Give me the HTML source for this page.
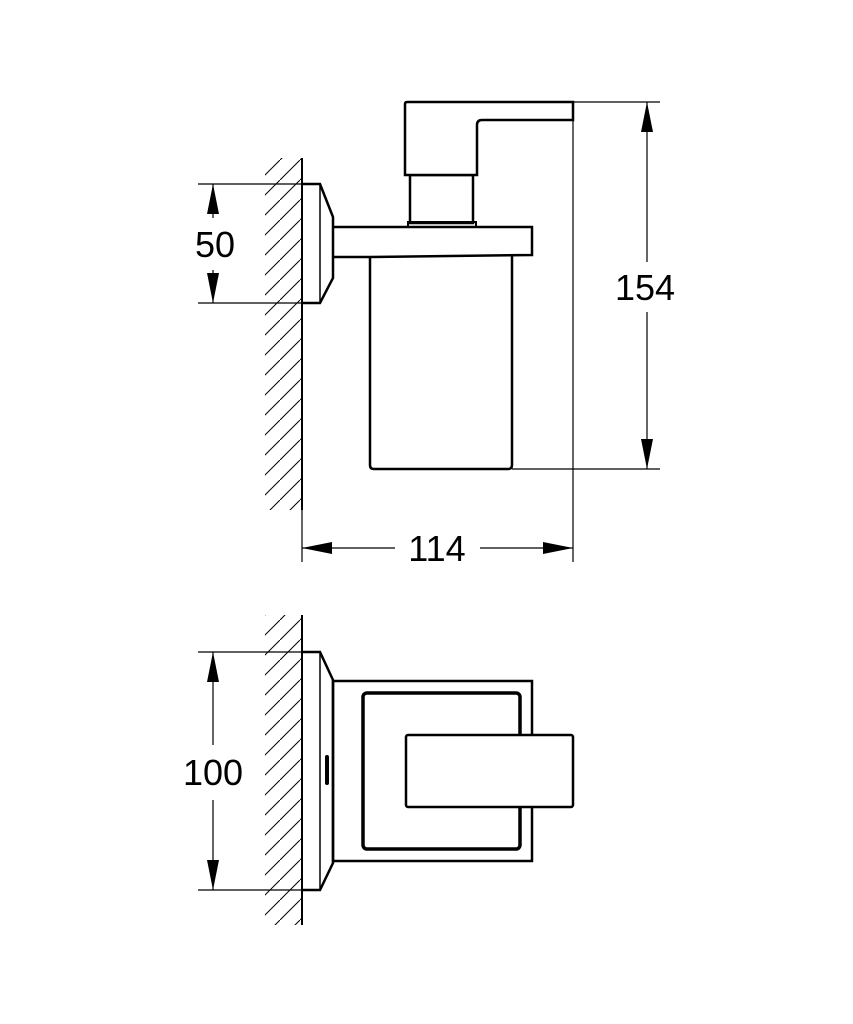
<!DOCTYPE html>
<html><head><style>body{margin:0;background:#fff}svg{display:block}text{font-family:"Liberation Sans",sans-serif;font-size:36px;fill:#000}</style></head><body>
<svg width="853" height="1024" viewBox="0 0 853 1024">
<defs>
<pattern id="h" width="20" height="20" patternUnits="userSpaceOnUse" patternTransform="translate(0,0)">
<line x1="0" y1="20" x2="20" y2="0" stroke="#000" stroke-width="1"/>
</pattern>
<marker id="a" viewBox="0 0 10 30" refX="10" refY="5" markerWidth="10" markerHeight="30" orient="auto" markerUnits="userSpaceOnUse"></marker>
</defs>
<g stroke="#000" fill="none">
<!-- top wall -->
<rect x="265" y="158" width="37" height="352" fill="url(#h)" stroke="none"/>
<line x1="302" y1="158" x2="302" y2="510" stroke-width="2"/>
<!-- mount -->
<path d="M302 184 H320 L333 217 V278 L320 303 H302" stroke-width="2.5"/>
<line x1="320" y1="184" x2="320" y2="303" stroke-width="1.5"/>
<!-- arm -->
<path d="M333 227 H532 V255 L370 257 H333" stroke-width="2.5"/>
<!-- cup -->
<path d="M370 257 V465 Q370 469 374 469 H508 Q512 469 512 465 V256" stroke-width="2.5"/>
<!-- neck -->
<rect x="410" y="175" width="63" height="48" stroke-width="2.5"/>
<rect x="408" y="222" width="68" height="5" stroke-width="2"/>
<!-- pump head -->
<path d="M405 175 V104 Q405 102 407 102 H573 V120 H482 Q477 120 477 125 V175 Z" stroke-width="2.5" fill="#fff"/>
<!-- dims top -->
<g stroke-width="1.2">
<line x1="573" y1="102" x2="660" y2="102"/>
<line x1="512" y1="469" x2="660" y2="469"/>
<line x1="573" y1="102" x2="573" y2="562"/>
<line x1="302" y1="510" x2="302" y2="562"/>
<line x1="647" y1="102" x2="647" y2="262"/>
<line x1="647" y1="312" x2="647" y2="469"/>
<line x1="198" y1="184" x2="302" y2="184"/>
<line x1="198" y1="303" x2="302" y2="303"/>
<line x1="213" y1="184" x2="213" y2="218"/>
<line x1="213" y1="270" x2="213" y2="303"/>
<line x1="302" y1="548" x2="395" y2="548"/>
<line x1="480" y1="548" x2="573" y2="548"/>
<line x1="198" y1="652" x2="302" y2="652"/>
<line x1="198" y1="890" x2="302" y2="890"/>
<line x1="213" y1="652" x2="213" y2="745"/>
<line x1="213" y1="800" x2="213" y2="890"/>
</g>
<g fill="#000" stroke="none">
<path d="M647 102 L641 132 L653 132 Z"/><path d="M647 469 L641 439 L653 439 Z"/>
<path d="M213 184 L207 214 L219 214 Z"/><path d="M213 303 L207 273 L219 273 Z"/>
<path d="M302 548 L332 542 L332 554 Z"/><path d="M573 548 L543 542 L543 554 Z"/>
<path d="M213 652 L207 682 L219 682 Z"/><path d="M213 890 L207 860 L219 860 Z"/>
</g>
<!-- bottom wall -->
<rect x="265" y="615" width="37" height="310" fill="url(#h)" stroke="none"/>
<line x1="302" y1="615" x2="302" y2="925" stroke-width="2"/>
<path d="M302 652 H320 L333 680 V863 L320 890 H302" stroke-width="2.5"/>
<line x1="320" y1="652" x2="320" y2="890" stroke-width="1.5"/>
<rect x="325" y="755" width="4" height="30" rx="2" fill="#000" stroke="none"/>
<rect x="333" y="681" width="199" height="180" stroke-width="2.5"/>
<rect x="363" y="693" width="157" height="156" rx="4" stroke-width="3.5"/>
<rect x="406" y="735" width="167" height="72" rx="2" stroke-width="2.5" fill="#fff"/>
</g>
<text x="645" y="300" text-anchor="middle">154</text>
<text x="215" y="257" text-anchor="middle">50</text>
<text x="437" y="561" text-anchor="middle">114</text>
<text x="213" y="785" text-anchor="middle">100</text>
</svg>
</body></html>
